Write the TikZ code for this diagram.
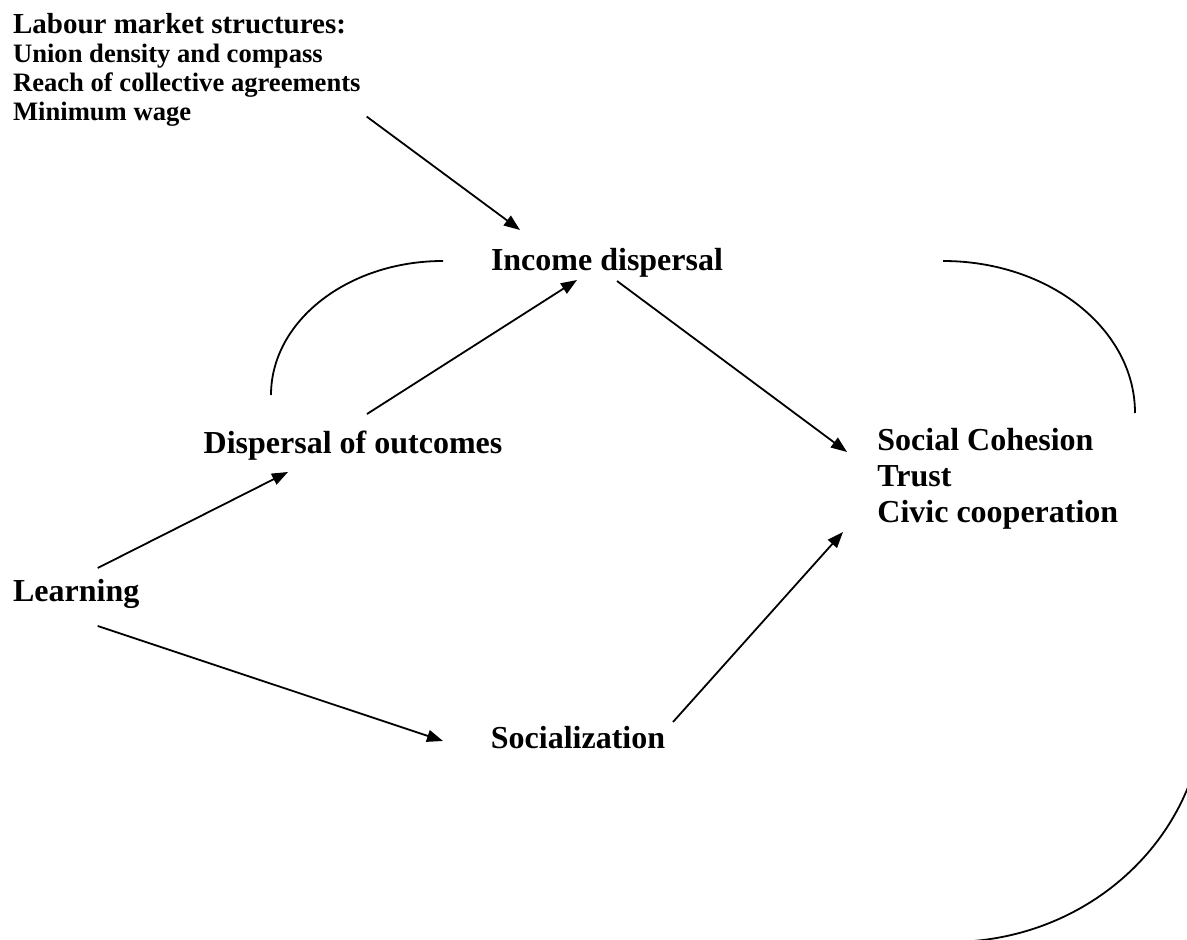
\documentclass[tikz,border=0pt]{standalone}
\usepackage{fontspec}
\setmainfont{Liberation Serif}
\usetikzlibrary{arrows.meta}
\definecolor{ink}{HTML}{000000}

\begin{document}
\begin{tikzpicture}[
    x=0.5pt,
    y=-0.5pt,
    text=ink,
    arrow/.style={-{Triangle[length=8pt,width=6pt]}, draw=ink, line width=0.9pt},
    bow/.style={draw=ink, line width=0.9pt},
    term/.style={inner sep=0pt, font=\fontsize{16}{18}\selectfont\bfseries},
    factor/.style={inner sep=0pt, align=left, font=\fontsize{13.3}{14.6}\selectfont\bfseries}
]
\useasboundingbox (0,0) rectangle (1187,940);
\clip (0,0) rectangle (1187,940);

% Institutional factors, top left.
\node[factor, anchor=north west] (labour) at (12.7,12.6)
    {{\fontsize{14.5}{15}\selectfont Labour market structures:}\\
     Union density and compass\\
     Reach of collective agreements\\
     Minimum wage};

% Main chain.
\node[term, anchor=base] (income) at (607,271) {Income dispersal};
\node[term, anchor=base] (outcomes) at (353,453) {Dispersal of outcomes};
\node[term, anchor=base west] (learning) at (12.7,601) {Learning};
\node[term, anchor=base] (social) at (578,748) {Socialization};
\node[term, anchor=north west, align=left] (cohesion) at (877,428)
    {Social Cohesion\\Trust\\Civic cooperation};

\draw[arrow] ([shift={(354,104)}]labour.north west) -- ([shift={(-87,-41)}]income.base);
\draw[arrow] ([shift={(14,-39)}]outcomes.base) -- ([shift={(-30,9)}]income.base);
\draw[arrow] ([shift={(10,10)}]income.base) -- ([shift={(-30,24)}]cohesion.north west);
\draw[arrow] ([shift={(85,-33)}]learning.base west) -- ([shift={(-65,19)}]outcomes.base);
\draw[arrow] ([shift={(85,25)}]learning.base west) -- ([shift={(-135,-7)}]social.base);
\draw[arrow] ([shift={(95,-26)}]social.base) -- ([shift={(-34,104)}]cohesion.north west);

% Feedback bows.
\draw[bow] (443,261) .. controls (348,261) and (271,321) .. (271,395);
\draw[bow] (943,261) .. controls (1049,261) and (1135,329) .. (1135,413);
\draw[bow] (1205,700) .. controls (1205,834) and (1091,942) .. (950,942);

\end{tikzpicture}
\end{document}
